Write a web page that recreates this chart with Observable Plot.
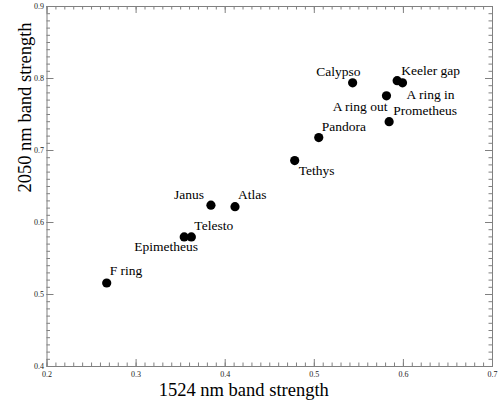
<!DOCTYPE html>
<html>
<head>
<meta charset="utf-8">
<script src="https://cdn.jsdelivr.net/npm/d3@7"></script>
<script src="https://cdn.jsdelivr.net/npm/@observablehq/plot@0.6"></script>
<style>
  html, body { margin: 0; padding: 0; background: white; }
  #chart { width: 501px; height: 400px; }
</style>
</head>
<body>
<div id="chart"></div>
<script>
// Data
const names = ["F ring", "Epimetheus", "Telesto", "Janus", "Atlas", "Tethys", "Pandora",
               "Calypso", "A ring out", "Prometheus", "Keeler gap", "A ring in"];
const band1524 = [0.267, 0.354, 0.362, 0.384, 0.411, 0.478, 0.505, 0.543, 0.581, 0.584, 0.593, 0.599];
const band2050 = [0.516, 0.580, 0.580, 0.624, 0.622, 0.686, 0.718, 0.794, 0.776, 0.740, 0.797, 0.794];
const xTitle = "1524 nm band strength";
const yTitle = "2050 nm band strength";
const xTickLabels = [0.2, 0.3, 0.4, 0.5, 0.6, 0.7];
const yTickLabels = [0.4, 0.5, 0.6, 0.7, 0.8, 0.9];
const xDomain = [0.2, 0.7];
const yDomain = [0.4, 0.9];

const data = names.map((name, i) => ({name, x: band1524[i], y: band2050[i]}));

// label placement (styling): [textAnchor, dx, dy]
const placement = {
  "F ring": ["start", 3, -12],
  "Epimetheus": ["middle", -18, 10],
  "Telesto": ["start", 3, -11],
  "Janus": ["end", -7, -11],
  "Atlas": ["start", 3, -12],
  "Tethys": ["start", 4, 10],
  "Pandora": ["start", 3, -11],
  "Calypso": ["end", 8, -11],
  "A ring out": ["end", 1, 11],
  "Prometheus": ["start", 4, -11],
  "Keeler gap": ["start", 4, -10],
  "A ring in": ["start", 4, 12]
};

const W = 501, H = 400;
const mL = 46.5, mR = 9, mT = 6, mB = 34;
const plotW = W - mL - mR, plotH = H - mT - mB;

const serif = "'Liberation Serif', 'DejaVu Serif', serif";
const axisColor = "#808080";

const labelMarks = data.map(d => {
  const [anchor, dx, dy] = placement[d.name];
  return Plot.text([d], {x: "x", y: "y", text: "name", textAnchor: anchor, dx, dy,
    fontSize: 13.5, fontFamily: serif, fill: "black"});
});

// inward ticks on all four sides, drawn as tick marks inset to a short length
function inwardTicks(xs, ys, len) {
  return [
    Plot.tickX(xs, {x: d => d, insetTop: plotH - len, stroke: axisColor, strokeWidth: 1}),
    Plot.tickX(xs, {x: d => d, insetBottom: plotH - len, stroke: axisColor, strokeWidth: 1}),
    Plot.tickY(ys, {y: d => d, insetRight: plotW - len, stroke: axisColor, strokeWidth: 1}),
    Plot.tickY(ys, {y: d => d, insetLeft: plotW - len, stroke: axisColor, strokeWidth: 1})
  ];
}
const xMinor = d3.ticks(xDomain[0], xDomain[1], 50);
const yMinor = d3.ticks(yDomain[0], yDomain[1], 50);

const chart = Plot.plot({
  width: W,
  height: H,
  marginLeft: mL,
  marginRight: mR,
  marginTop: mT,
  marginBottom: mB,
  style: {fontFamily: serif, background: "white"},
  x: {domain: xDomain, axis: null},
  y: {domain: yDomain, axis: null},
  marks: [
    ...inwardTicks(xMinor, yMinor, 3.5),
    ...inwardTicks(xTickLabels, yTickLabels, 7),
    Plot.frame({stroke: axisColor, strokeWidth: 1}),
    // tick labels
    Plot.axisX(xTickLabels, {anchor: "bottom", tickSize: 0, tickPadding: 5, tickFormat: d3.format(".1f"),
      fontSize: 8, fontFamily: serif, fill: "#222", label: null}),
    Plot.axisY(yTickLabels, {anchor: "left", tickSize: 0, tickPadding: 3, tickFormat: d3.format(".1f"),
      fontSize: 8, fontFamily: serif, fill: "#222", label: null}),
    // axis titles
    Plot.text([xTitle], {frameAnchor: "bottom", dx: -26, dy: 29, fontSize: 18.5, fontFamily: serif, fill: "black"}),
    Plot.text([yTitle], {frameAnchor: "left", rotate: -90, dx: -22, dy: 6, fontSize: 18.5, fontFamily: serif, fill: "black"}),
    // points
    Plot.dot(data, {x: "x", y: "y", r: 4.6, fill: "black", stroke: "none"}),
    ...labelMarks
  ]
});

document.getElementById("chart").appendChild(chart);
</script>
</body>
</html>
